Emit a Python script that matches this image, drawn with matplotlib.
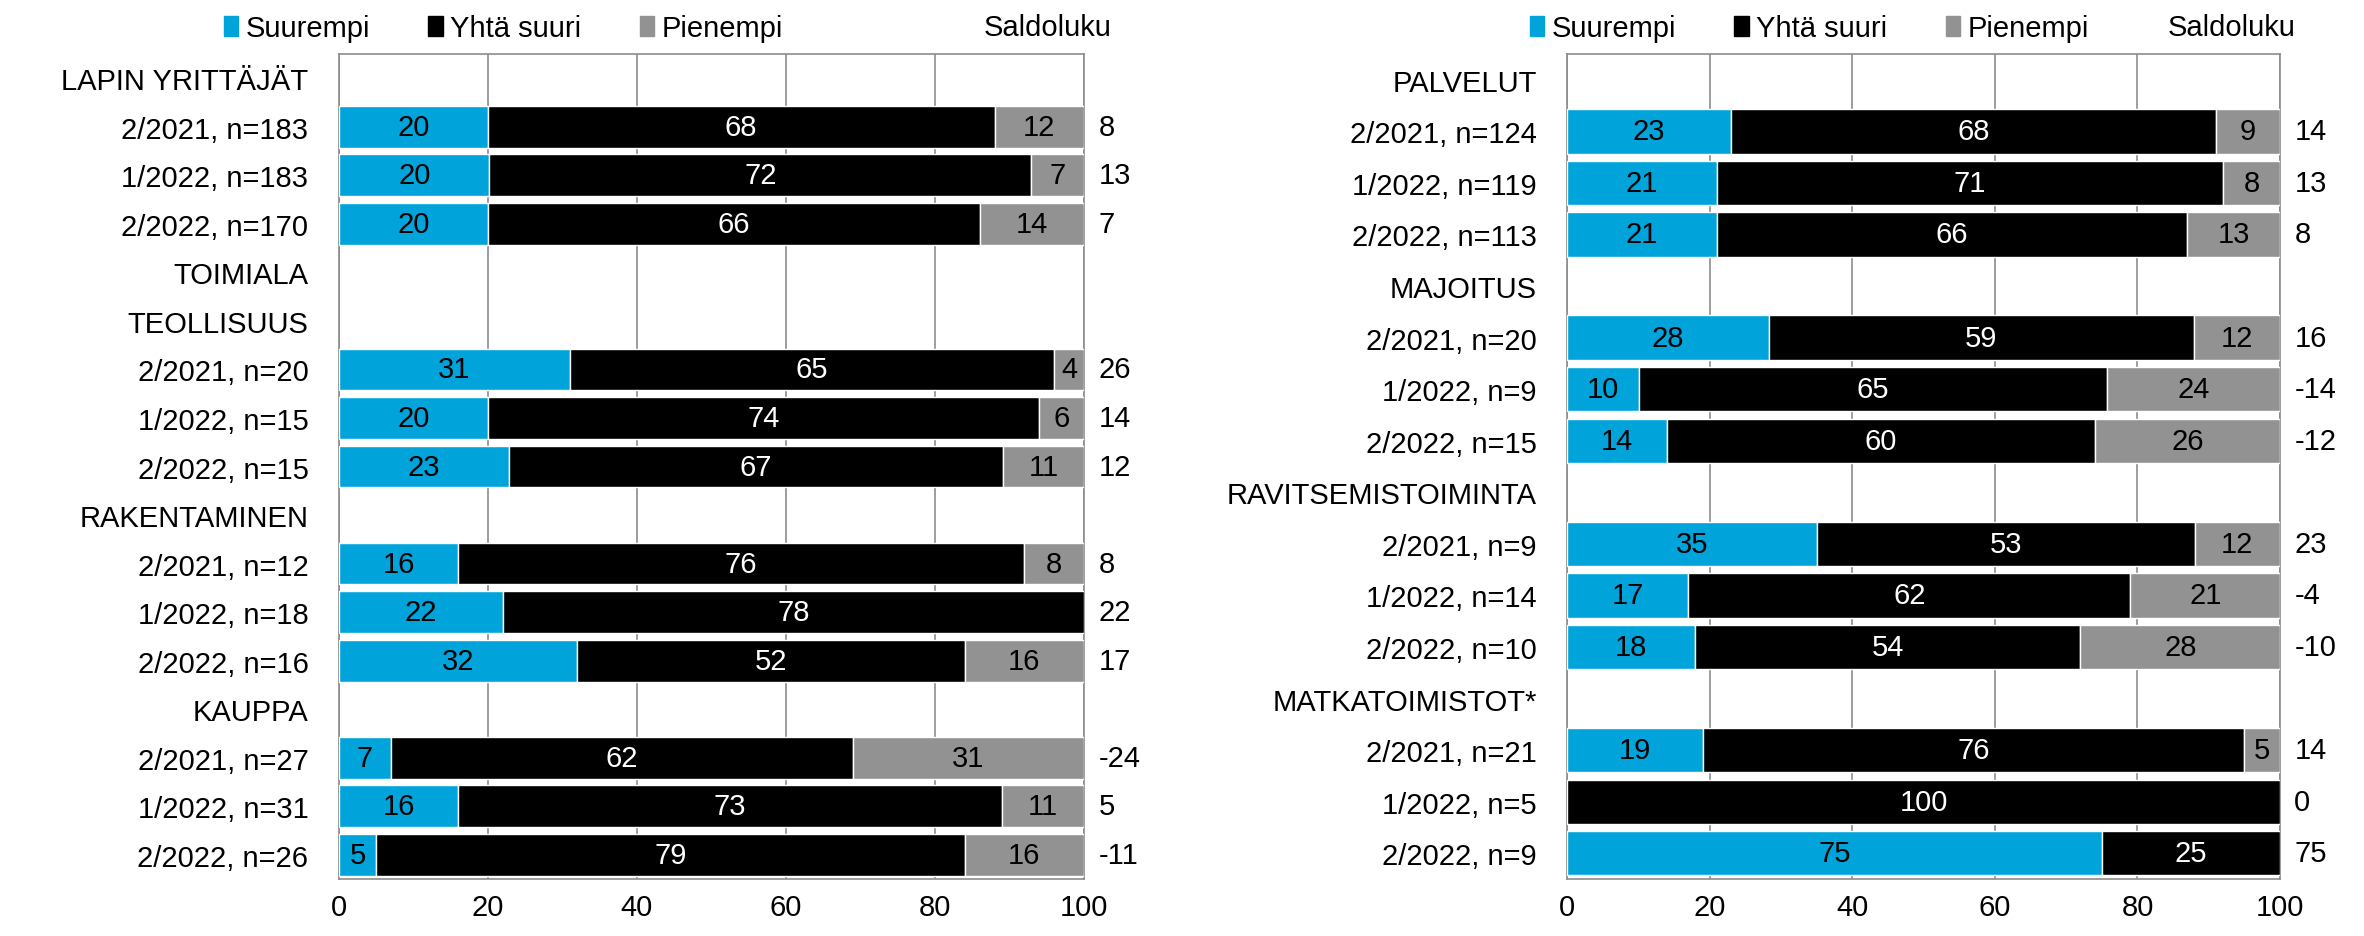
import numpy as np
import matplotlib
matplotlib.use("Agg")
import matplotlib.pyplot as plt
from matplotlib.patches import Patch

plt.rcParams['font.family'] = ['Liberation Sans', 'DejaVu Sans']

# Left panel (None = header row, no bars)
left_labels = ["LAPIN YRITTÄJÄT", "2/2021, n=183", "1/2022, n=183", "2/2022, n=170",
               "TOIMIALA", "TEOLLISUUS", "2/2021, n=20", "1/2022, n=15", "2/2022, n=15",
               "RAKENTAMINEN", "2/2021, n=12", "1/2022, n=18", "2/2022, n=16",
               "KAUPPA", "2/2021, n=27", "1/2022, n=31", "2/2022, n=26"]
left_suurempi = [None, 20, 20, 20, None, None, 31, 20, 23, None, 16, 22, 32, None, 7, 16, 5]
left_yhta = [None, 68, 72, 66, None, None, 65, 74, 67, None, 76, 78, 52, None, 62, 73, 79]
left_pienempi = [None, 12, 7, 14, None, None, 4, 6, 11, None, 8, 0, 16, None, 31, 11, 16]
left_saldo = [None, 8, 13, 7, None, None, 26, 14, 12, None, 8, 22, 17, None, -24, 5, -11]

# Right panel
right_labels = ["PALVELUT", "2/2021, n=124", "1/2022, n=119", "2/2022, n=113",
                "MAJOITUS", "2/2021, n=20", "1/2022, n=9", "2/2022, n=15",
                "RAVITSEMISTOIMINTA", "2/2021, n=9", "1/2022, n=14", "2/2022, n=10",
                "MATKATOIMISTOT*", "2/2021, n=21", "1/2022, n=5", "2/2022, n=9"]
right_suurempi = [None, 23, 21, 21, None, 28, 10, 14, None, 35, 17, 18, None, 19, 0, 75]
right_yhta = [None, 68, 71, 66, None, 59, 65, 60, None, 53, 62, 54, None, 76, 100, 25]
right_pienempi = [None, 9, 8, 13, None, 12, 24, 26, None, 12, 21, 28, None, 5, 0, 0]
right_saldo = [None, 14, 13, 8, None, 16, -14, -12, None, 23, -4, -10, None, 14, 0, 75]

BLUE = '#00A3DA'
BLACK = '#000000'
GRAY = '#929292'
FS = 21


def draw_panel(ax, labels, s, y, p, saldo):
    n = len(labels)
    pos = np.arange(n)
    for i in range(n):
        if s[i] is None:
            continue
        # shares are rounded, bars are drawn as 100 % stacks
        total = s[i] + y[i] + p[i]
        left = 0
        for val, col, tcol in [(s[i], BLUE, 'black'), (y[i], BLACK, 'white'), (p[i], GRAY, 'black')]:
            w = val * 100 / total
            if val > 0:
                ax.barh(pos[i], w, left=left, height=0.86, color=col,
                        edgecolor='white', linewidth=1, zorder=3)
                ax.text(left + w / 2, pos[i], str(val), ha='center', va='center',
                        color=tcol, fontsize=FS, zorder=4)
            left += w
        ax.text(102, pos[i], str(saldo[i]), ha='left', va='center',
                fontsize=FS, clip_on=False)
    ax.set_xlim(0, 100)
    ax.set_ylim(n - 0.5, -0.5)
    ax.set_yticks(pos)
    ax.set_yticklabels(labels, fontsize=FS)
    ax.set_xticks([0, 20, 40, 60, 80, 100])
    ax.tick_params(axis='both', length=0, labelsize=FS)
    ax.tick_params(axis='y', pad=22)
    ax.tick_params(axis='x', pad=10)
    ax.grid(axis='x', color='#8c8c8c', linewidth=1.2, zorder=0)
    for sp in ax.spines.values():
        sp.set_color('#8c8c8c')
        sp.set_linewidth(1.2)


fig = plt.figure(figsize=(23.64, 9.37), dpi=100)
ax1 = fig.add_axes([0.1434, 0.0608, 0.3151, 0.8805])
ax2 = fig.add_axes([0.6629, 0.0608, 0.3016, 0.8805])

draw_panel(ax1, left_labels, left_suurempi, left_yhta, left_pienempi, left_saldo)
draw_panel(ax2, right_labels, right_suurempi, right_yhta, right_pienempi, right_saldo)

handles = [Patch(color=BLUE, label='Suurempi'),
           Patch(color=BLACK, label='Yhtä suuri'),
           Patch(color=GRAY, label='Pienempi')]
for x0, xs in [(0.0835, 0.416), (0.636, 0.917)]:
    fig.legend(handles=handles, loc='upper left', bbox_to_anchor=(x0, 1.012), ncol=3,
               frameon=False, fontsize=FS, handlelength=0.5, handleheight=0.7,
               handletextpad=0.25, columnspacing=2.0)
    fig.text(xs, 0.985, 'Saldoluku', fontsize=FS, va='top', ha='left')

fig.savefig('out.png', dpi=100)
